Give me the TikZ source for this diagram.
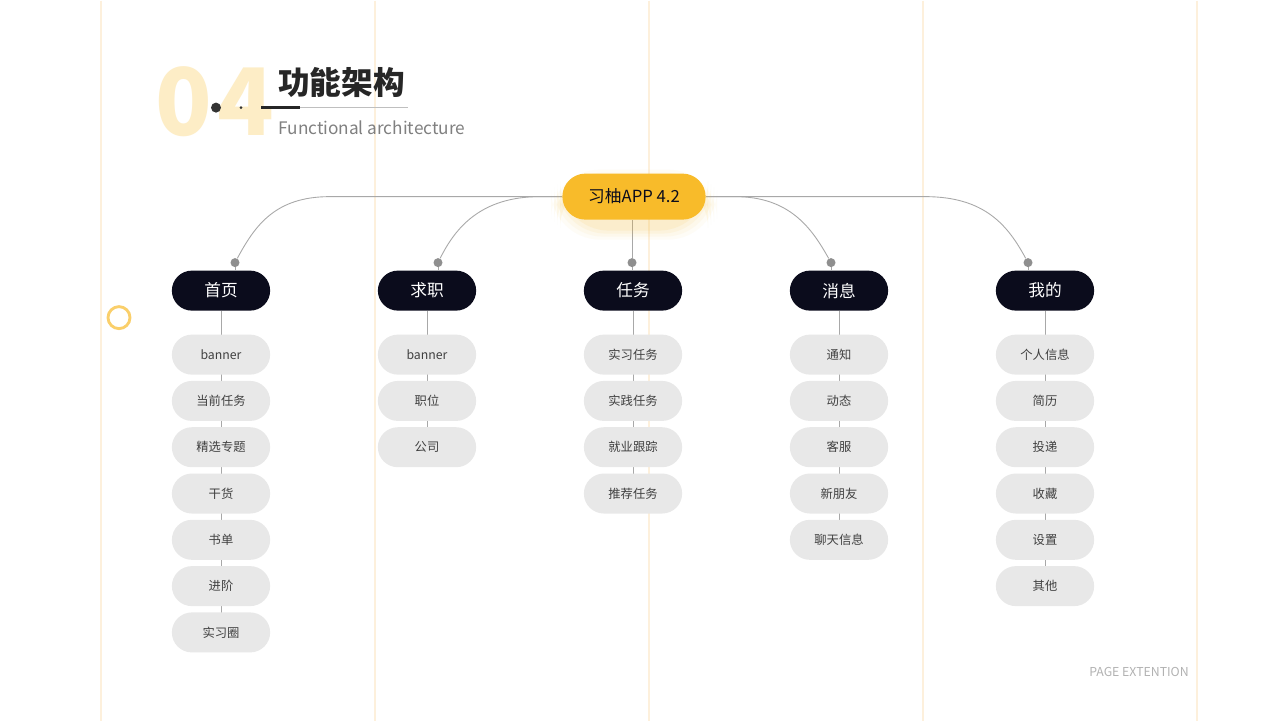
\documentclass[tikz,border=0pt]{standalone}
\usepackage{fontspec}
\setmainfont{Noto Sans CJK SC}
\usepackage{tikz}
\usetikzlibrary{shapes,backgrounds,positioning}

\definecolor{guide}{HTML}{FDF0DC}
\definecolor{pale}{HTML}{FDEDC6}
\definecolor{gold}{HTML}{F8BB2A}
\definecolor{navy}{HTML}{0B0C1C}
\definecolor{pill}{HTML}{E8E8E8}
\definecolor{wire}{HTML}{A8A8A8}

\pgfdeclarelayer{bottom}
\pgfsetlayers{bottom,background,main}

\tikzset{
	head/.style={rounded rectangle, fill=navy, text=white, minimum width=2.2cm, minimum height=0.8cm, font=\fontsize{9.5}{10}\selectfont},
	item/.style={rounded rectangle, fill=pill, text=black!75, minimum width=2.2cm, minimum height=0.8cm, font=\fontsize{7}{8}\selectfont},
	wireline/.style={wire, line width=0.5pt},
	knob/.style={circle, fill=wire!85!black, inner sep=0pt, minimum size=0.18cm}
}

\begin{document}
\begin{tikzpicture}[x=0.02cm, y=-0.02cm]

	\begin{pgfonlayer}{bottom}
		\fill[white] (0,0) rectangle (1280,720);
		\foreach \gx in {101,375,649,923,1197}
			\draw[guide, line width=0.7pt] (\gx,0) -- (\gx,720);
	\end{pgfonlayer}
	\useasboundingbox (0,0) rectangle (1280,720);

	% title
	\node[text=pale, font=\fontsize{53}{53}\selectfont\bfseries, anchor=center] (num) at (215,101) {0\hspace{0.12cm}4};
	\fill[black!80] (216,107) circle (5);
	\fill[black!80] (241,107) circle (1.5);
	\draw[black!85, line width=1.6pt] (261,107) -- (300,107);
	\draw[black!25, line width=0.5pt] (300,107) -- (408,107);
	\node[anchor=west, inner sep=0pt, text=black!85, font=\fontsize{18}{18}\selectfont\bfseries] (title) at (278,82) {功能架构};
	\node[anchor=west, inner sep=0pt, text=black!50, font=\fontsize{9.8}{10}\selectfont] (sub) at (278,127) {Functional architecture};
	\draw[gold!70, line width=1.6pt] (119,317) circle (11);
	\node[text=black!30, font=\fontsize{7}{8}\selectfont] (page) at (1139,671) {PAGE EXTENTION};

	% root with glow
	\foreach \r/\o in {12/0.04,9/0.05,6/0.07,3/0.09}
		\fill[gold, opacity=\o, rounded corners=28] (563-\r,173-\r+8) rectangle (705+\r,219+\r+8);
	\node[rounded rectangle, fill=gold, minimum width=3.1cm, minimum height=0.92cm, font=\fontsize{9.5}{10}\selectfont, text=navy] (root) at (634,196) {习柚APP 4.2};

	% heads
	\node[head] (h1) at (221,290) {首页};
	\node[head] (h2) at (427,290) {求职};
	\node[head] (h3) at (633,290) {任务};
	\node[head] (h4) at (839,290) {消息};
	\node[head] (h5) at (1045,290) {我的};

	\node[knob] (k1) at (235,262) {};
	\node[knob] (k2) at (438,262) {};
	\node[knob] (k3) at (632,262) {};
	\node[knob] (k4) at (831,262) {};
	\node[knob] (k5) at (1028,262) {};

	\begin{scope}[on background layer]
		\draw[wireline] (root.west) -- (330,196) .. controls (275,196) and (255,225) .. (k1);
		\draw[wireline] (root.west) -- (540,196) .. controls (480,196) and (455,228) .. (k2);
		\draw[wireline] (root.south -| k3) -- (k3);
		\draw[wireline] (root.east) -- (735,196) .. controls (790,196) and (812,228) .. (k4);
		\draw[wireline] (root.east) -- (925,196) .. controls (985,196) and (1008,225) .. (k5);
		\foreach \i in {1,...,5}
			\draw[wireline] (k\i) -- (h\i.north -| k\i);
	\end{scope}

	% items
	\foreach \col/\xx/\last/\list in {1/221/7/{banner,当前任务,精选专题,干货,书单,进阶,实习圈},
			2/427/3/{banner,职位,公司},
			3/633/4/{实习任务,实践任务,就业跟踪,推荐任务},
			4/839/5/{通知,动态,客服,新朋友,聊天信息},
			5/1045/6/{个人信息,简历,投递,收藏,设置,其他}} {
		\foreach \txt [count=\n] in \list {
			\pgfmathsetmacro{\yy}{354+46.3*(\n-1)}
			\node[item] (c\col-\n) at (\xx,\yy) {\txt};
		}
		\begin{scope}[on background layer]
			\draw[wireline] (h\col.south) -- (c\col-\last.center);
		\end{scope}
	}

\end{tikzpicture}
\end{document}
